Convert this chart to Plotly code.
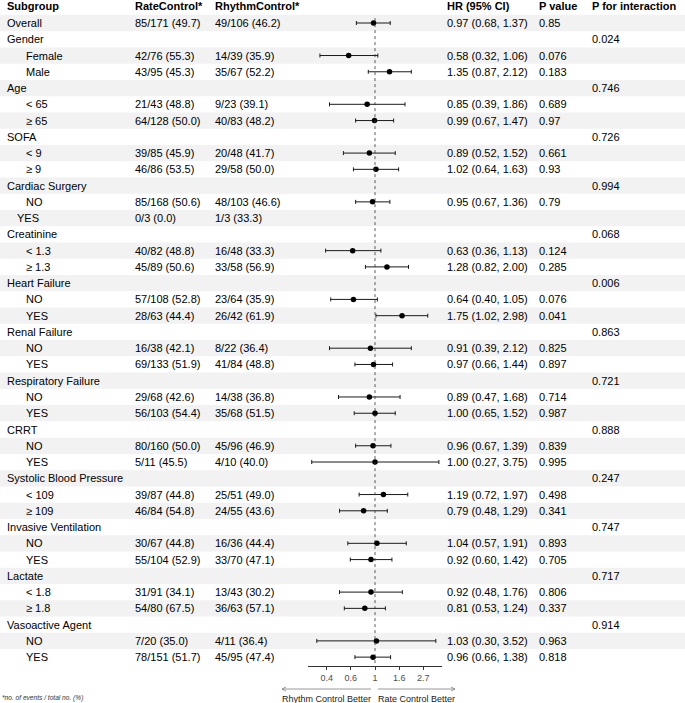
import math
import plotly.graph_objects as go

# ---------------- data ----------------
subgroups = ["Overall", "Gender", "Female", "Male", "Age", "< 65", "≥ 65", "SOFA", "< 9", "≥ 9",
             "Cardiac Surgery", "NO", "YES", "Creatinine", "< 1.3", "≥ 1.3", "Heart Failure", "NO", "YES",
             "Renal Failure", "NO", "YES", "Respiratory Failure", "NO", "YES", "CRRT", "NO", "YES",
             "Systolic Blood Pressure", "< 109", "≥ 109", "Invasive Ventilation", "NO", "YES",
             "Lactate", "< 1.8", "≥ 1.8", "Vasoactive Agent", "NO", "YES"]
indent_level = [0, 0, 2, 2, 0, 2, 2, 0, 2, 2,
                0, 2, 1, 0, 2, 2, 0, 2, 2,
                0, 2, 2, 0, 2, 2, 0, 2, 2,
                0, 2, 2, 0, 2, 2,
                0, 2, 2, 0, 2, 2]
rate_control = ["85/171 (49.7)", "", "42/76 (55.3)", "43/95 (45.3)", "", "21/43 (48.8)", "64/128 (50.0)", "",
                "39/85 (45.9)", "46/86 (53.5)", "", "85/168 (50.6)", "0/3 (0.0)", "", "40/82 (48.8)",
                "45/89 (50.6)", "", "57/108 (52.8)", "28/63 (44.4)", "", "16/38 (42.1)", "69/133 (51.9)", "",
                "29/68 (42.6)", "56/103 (54.4)", "", "80/160 (50.0)", "5/11 (45.5)", "", "39/87 (44.8)",
                "46/84 (54.8)", "", "30/67 (44.8)", "55/104 (52.9)", "", "31/91 (34.1)", "54/80 (67.5)", "",
                "7/20 (35.0)", "78/151 (51.7)"]
rhythm_control = ["49/106 (46.2)", "", "14/39 (35.9)", "35/67 (52.2)", "", "9/23 (39.1)", "40/83 (48.2)", "",
                  "20/48 (41.7)", "29/58 (50.0)", "", "48/103 (46.6)", "1/3 (33.3)", "", "16/48 (33.3)",
                  "33/58 (56.9)", "", "23/64 (35.9)", "26/42 (61.9)", "", "8/22 (36.4)", "41/84 (48.8)", "",
                  "14/38 (36.8)", "35/68 (51.5)", "", "45/96 (46.9)", "4/10 (40.0)", "", "25/51 (49.0)",
                  "24/55 (43.6)", "", "16/36 (44.4)", "33/70 (47.1)", "", "13/43 (30.2)", "36/63 (57.1)", "",
                  "4/11 (36.4)", "45/95 (47.4)"]
hr = [0.97, None, 0.58, 1.35, None, 0.85, 0.99, None, 0.89, 1.02, None, 0.95, None, None, 0.63, 1.28, None,
      0.64, 1.75, None, 0.91, 0.97, None, 0.89, 1.00, None, 0.96, 1.00, None, 1.19, 0.79, None, 1.04, 0.92,
      None, 0.92, 0.81, None, 1.03, 0.96]
ci_low = [0.68, None, 0.32, 0.87, None, 0.39, 0.67, None, 0.52, 0.64, None, 0.67, None, None, 0.36, 0.82, None,
          0.40, 1.02, None, 0.39, 0.66, None, 0.47, 0.65, None, 0.67, 0.27, None, 0.72, 0.48, None, 0.57, 0.60,
          None, 0.48, 0.53, None, 0.30, 0.66]
ci_high = [1.37, None, 1.06, 2.12, None, 1.86, 1.47, None, 1.52, 1.63, None, 1.36, None, None, 1.13, 2.00, None,
           1.05, 2.98, None, 2.12, 1.44, None, 1.68, 1.52, None, 1.39, 3.75, None, 1.97, 1.29, None, 1.91, 1.42,
           None, 1.76, 1.24, None, 3.52, 1.38]
p_value = ["0.85", "", "0.076", "0.183", "", "0.689", "0.97", "", "0.661", "0.93", "", "0.79", "", "", "0.124",
           "0.285", "", "0.076", "0.041", "", "0.825", "0.897", "", "0.714", "0.987", "", "0.839", "0.995", "",
           "0.498", "0.341", "", "0.893", "0.705", "", "0.806", "0.337", "", "0.963", "0.818"]
p_interaction = ["", "0.024", "", "", "0.746", "", "", "0.726", "", "", "0.994", "", "", "0.068", "", "",
                 "0.006", "", "", "0.863", "", "", "0.721", "", "", "0.888", "", "", "0.247", "", "", "0.747",
                 "", "", "0.717", "", "", "0.914", "", ""]
headers = ["Subgroup", "RateControl*", "RhythmControl*", "HR (95% CI)", "P value", "P for interaction"]
tick_vals = [math.exp(-1), math.exp(-0.5), 1, math.exp(0.5), math.exp(1)]
tick_text = ["0.4", "0.6", "1", "1.6", "2.7"]
x_limits = [0.25, 4]

# ---------------- layout helpers ----------------
W, H = 685, 703
FONT = "Liberation Sans, Arial, Helvetica, sans-serif"
ROW0, PITCH = 23.0, 16.26
AXIS_Y = 666.0


def px(x):
    return x / W


def py(y):
    return 1 - y / H


n = len(subgroups)
y_bottom = (AXIS_Y - ROW0) / PITCH
y_top = -ROW0 / PITCH
rows = list(range(n))

fig = go.Figure()

# alternating row backgrounds
shapes = []
for i in rows:
    if i % 2 == 0:
        shapes.append(dict(type="rect", xref="paper", yref="y", x0=0, x1=1, y0=i - 0.5, y1=i + 0.5,
                           fillcolor="#F2F2F2", line=dict(width=0), layer="below"))

# reference line at HR = 1
shapes.append(dict(type="line", xref="x", yref="y", x0=1, x1=1, y0=-0.3, y1=y_bottom,
                   line=dict(color="#333333", width=0.8, dash="3px,3px")))

# forest points with CIs
valid = [i for i in rows if hr[i] is not None]
fig.add_trace(go.Scatter(
    x=[hr[i] for i in valid], y=valid, mode="markers",
    marker=dict(color="black", size=5.5, symbol="circle"),
    error_x=dict(type="data", symmetric=False,
                 array=[ci_high[i] - hr[i] for i in valid],
                 arrayminus=[hr[i] - ci_low[i] for i in valid],
                 color="#1a1a1a", thickness=1, width=2),
    showlegend=False, hoverinfo="skip", cliponaxis=False))

# table text
annotations = []
col_x = [7, 135, 215, 447, 539, 592]
indent_px = {0: 0, 1: 10, 2: 19}


def add_text(x, y, text, size=11, color="black", yref="y", xanchor="left"):
    annotations.append(dict(x=x, y=y, xref="paper", yref=yref, text=text, showarrow=False,
                            xanchor=xanchor, yanchor="middle", borderpad=0,
                            font=dict(family=FONT, size=size, color=color)))


header_row = -1.07
for cx, h in zip(col_x, headers):
    add_text(px(cx - 1), header_row, "<b>" + h + "</b>")

for i in rows:
    add_text(px(col_x[0] - 1 + indent_px[indent_level[i]]), i, subgroups[i])
    if rate_control[i]:
        add_text(px(col_x[1] - 1), i, rate_control[i])
    if rhythm_control[i]:
        add_text(px(col_x[2] - 1), i, rhythm_control[i])
    if hr[i] is not None:
        add_text(px(col_x[3] - 1), i, f"{hr[i]:.2f} ({ci_low[i]:.2f}, {ci_high[i]:.2f})")
    if p_value[i]:
        add_text(px(col_x[4] - 1), i, p_value[i])
    if p_interaction[i]:
        add_text(px(col_x[5] - 1), i, p_interaction[i])

# footnote
add_text(px(1), py(698), "<i>*no. of events / total no. (%)</i>", size=6.6, color="#333333", yref="paper")

# direction arrows and labels
arrow_y = 689
arrow_col = "#7f7f7f"
for (tail, head) in [(371, 282), (378, 455)]:
    d = 1 if head > tail else -1
    shapes.append(dict(type="line", xref="paper", yref="paper", x0=px(tail), x1=px(head),
                       y0=py(arrow_y), y1=py(arrow_y), line=dict(color=arrow_col, width=0.8)))
    shapes.append(dict(type="path", xref="paper", yref="paper",
                       path=f"M {px(head - d * 4)},{py(arrow_y - 2)} L {px(head)},{py(arrow_y)} "
                            f"L {px(head - d * 4)},{py(arrow_y + 2)}",
                       line=dict(color=arrow_col, width=0.8)))
add_text(px(326.5), py(698.5), "Rhythm Control Better", size=9, color="#222222", yref="paper", xanchor="center")
add_text(px(416.5), py(698.5), "Rate Control Better", size=9, color="#222222", yref="paper", xanchor="center")

fig.update_layout(
    width=W, height=H, margin=dict(l=0, r=0, t=0, b=0),
    paper_bgcolor="white", plot_bgcolor="rgba(0,0,0,0)",
    shapes=shapes, annotations=annotations,
    xaxis=dict(type="log", range=[math.log10(x_limits[0]), math.log10(x_limits[1])],
               domain=[px(308), px(442)], showgrid=False, zeroline=False,
               showline=True, linecolor="#333333", linewidth=0.8,
               ticks="outside", ticklen=3, tickwidth=0.8, tickcolor="#333333",
               tickvals=tick_vals, ticktext=tick_text,
               tickfont=dict(family=FONT, size=9, color="#4d4d4d")),
    yaxis=dict(range=[y_bottom, y_top], domain=[py(AXIS_Y), 1], visible=False,
               showgrid=False, zeroline=False),
    font=dict(family=FONT),
)

fig.write_html("out.html", post_script="document.body.style.margin='0';",
               config={"displayModeBar": False})
